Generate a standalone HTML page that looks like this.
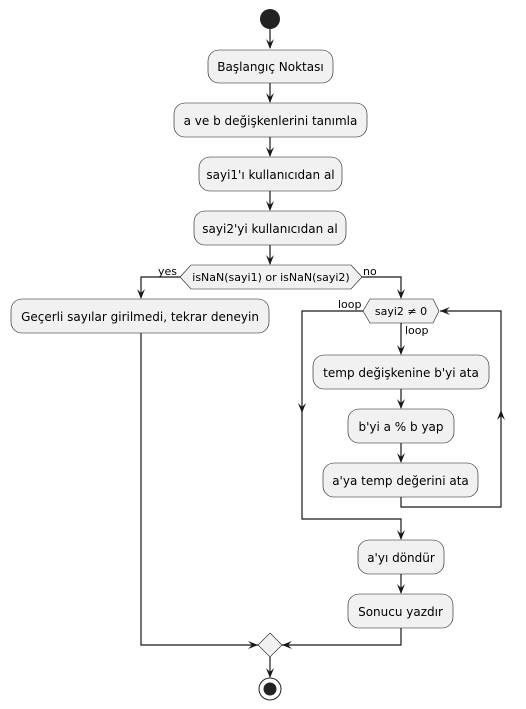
<!DOCTYPE html>
<html><head><meta charset="utf-8"><style>
html,body{margin:0;padding:0;background:#fff;}
svg{display:block;}
text{font-family:"DejaVu Sans","Liberation Sans",sans-serif;fill:#000;}
.b{fill:#F1F1F1;stroke:#181818;stroke-width:0.6;}
.l{stroke:#181818;stroke-width:1.2;fill:none;}
.a{fill:#181818;stroke:none;}
</style></head><body>
<svg width="526" height="709" viewBox="0 0 526 709" xmlns="http://www.w3.org/2000/svg">
<circle cx="270" cy="19" r="10" fill="#222"/>
<!-- vertical connectors main -->
<path class="l" d="M270 29V48 M270 83V102 M270 137V156 M270 191V210 M270 245V264"/>
<polygon class="a" points="266,39 270,49 274,39 270,43"/>
<polygon class="a" points="266,93 270,103 274,93 270,97"/>
<polygon class="a" points="266,147 270,157 274,147 270,151"/>
<polygon class="a" points="266,201 270,211 274,201 270,205"/>
<polygon class="a" points="266,255 270,265 274,255 270,259"/>

<rect class="b" x="208" y="50" width="125" height="33" rx="11"/>
<text x="270.5" y="71" font-size="12" text-anchor="middle">Başlangıç Noktası</text>
<rect class="b" x="174" y="103" width="193" height="34" rx="11"/>
<text x="270.5" y="125" font-size="12" text-anchor="middle">a ve b değişkenlerini tanımla</text>
<rect class="b" x="199" y="157" width="143" height="34" rx="11"/>
<text x="270.5" y="179" font-size="12" text-anchor="middle">sayi1'ı kullanıcıdan al</text>
<rect class="b" x="194" y="211" width="152" height="34" rx="11"/>
<text x="270" y="233" font-size="12" text-anchor="middle">sayi2'yi kullanıcıdan al</text>

<!-- decision 1 -->
<polygon class="b" points="180,277 191,265 351,265 362,277 351,289 191,289"/>
<text x="271" y="281" font-size="11" text-anchor="middle">isNaN(sayi1) or isNaN(sayi2)</text>
<text x="158" y="275" font-size="11">yes</text>
<text x="363" y="275" font-size="11">no</text>
<path class="l" d="M180 277H141V298 M362 277H401V298"/>
<polygon class="a" points="137,289 141,299 145,289 141,293"/>
<polygon class="a" points="397,289 401,299 405,289 401,293"/>

<rect class="b" x="11" y="299" width="258" height="34" rx="11"/>
<text x="140" y="321" font-size="12" text-anchor="middle">Geçerli sayılar girilmedi, tekrar deneyin</text>

<!-- loop diamond -->
<polygon class="b" points="363,311 370,299 433,299 439,311 433,323 370,323"/>
<text x="401" y="315" font-size="11" text-anchor="middle">sayi2 ≠ 0</text>
<text x="338" y="308" font-size="11">loop</text>
<text x="405" y="334" font-size="11">loop</text>
<path class="l" d="M401 323V354 M401 389V408 M401 443V462 M401 497V507H501V311H440"/>
<polygon class="a" points="397,345 401,355 405,345 401,349"/>
<polygon class="a" points="397,399 401,409 405,399 401,403"/>
<polygon class="a" points="397,453 401,463 405,453 401,457"/>
<polygon class="a" points="497,420 501,410 505,420 501,416"/>
<polygon class="a" points="450,307 440,311 450,315 446,311"/>
<path class="l" d="M363 311H302V519H401V539"/>
<polygon class="a" points="298,403 302,413 306,403 302,407"/>
<polygon class="a" points="397,530 401,540 405,530 401,534"/>

<rect class="b" x="313" y="355" width="176" height="34" rx="11"/>
<text x="401" y="377" font-size="12" text-anchor="middle">temp değişkenine b'yi ata</text>
<rect class="b" x="348" y="409" width="106" height="34" rx="11"/>
<text x="401" y="431" font-size="12" text-anchor="middle">b'yi a % b yap</text>
<rect class="b" x="323" y="463" width="155" height="34" rx="11"/>
<text x="400.5" y="485" font-size="12" text-anchor="middle">a'ya temp değerini ata</text>

<rect class="b" x="358" y="540" width="86" height="34" rx="11"/>
<text x="401" y="562" font-size="12" text-anchor="middle">a'yı döndür</text>
<path class="l" d="M401 574V593"/>
<polygon class="a" points="397,584 401,594 405,584 401,588"/>
<rect class="b" x="348" y="594" width="105" height="34" rx="11"/>
<text x="400.5" y="616" font-size="12" text-anchor="middle">Sonucu yazdır</text>

<!-- merge -->
<path class="l" d="M141 333V645H258 M401 628V645H282 M270 657V677"/>
<polygon class="a" points="248,641 258,645 248,649 252,645"/>
<polygon class="a" points="292,641 282,645 292,649 288,645"/>
<polygon class="a" points="266,668 270,678 274,668 270,672"/>
<polygon class="b" points="270,633 282,645 270,657 258,645"/>
<circle cx="270" cy="689" r="11" fill="#fff" stroke="#222" stroke-width="1"/>
<circle cx="270" cy="689" r="6.5" fill="#222"/>
</svg>
</body></html>
